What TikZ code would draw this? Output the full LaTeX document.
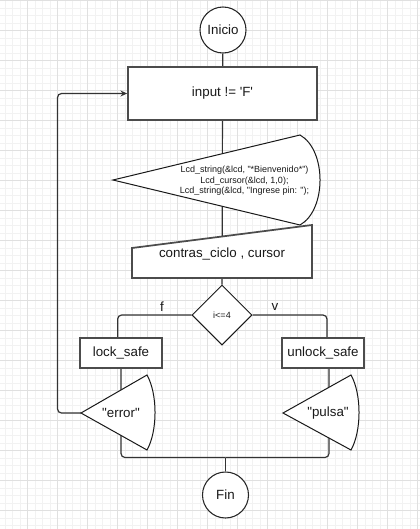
\documentclass[tikz,border=0pt]{standalone}
\usepackage{fontspec}
\setmainfont{Liberation Sans}[Ligatures=TeXOff]
\usetikzlibrary{shapes.geometric,arrows.meta}
\pgfdeclarelayer{grid}
\pgfdeclarelayer{edges}
\pgfsetlayers{grid,edges,main}

\begin{document}
\begin{tikzpicture}[x=0.75pt, y=-0.75pt,
  every node/.style={font=\fontsize{10}{12}\selectfont, text=black!90},
  term/.style={circle, draw=black!85, line width=0.8pt, fill=white, minimum size=34.5pt, inner sep=0pt},
  procbox/.style={rectangle, draw=black!70, line width=1.3pt, fill=white, minimum width=61.5pt, minimum height=22.5pt, inner sep=0pt},
  procline/.style={draw=black!70, line width=1.3pt, fill=white},
  shapeline/.style={draw=black!90, line width=0.75pt, fill=white},
  decision/.style={diamond, draw=black!90, line width=0.75pt, fill=white, minimum width=45pt, minimum height=45pt, inner sep=0pt},
  smalltext/.style={font=\fontsize{6.75}{7.9}\selectfont},
  flowline/.style={draw=black!80, line width=0.9pt, rounded corners=3pt}]
% page grid as in the editor
\providecommand{\flowGridMinor}{black!5}
\providecommand{\flowGridMajor}{black!12}
\useasboundingbox (0,0) rectangle (420,529);
\begin{pgfonlayer}{grid}
  \fill[white] (0,0) rectangle (420,529);
  \draw[\flowGridMinor, line width=0.6pt] \foreach \i in {0,...,55} {(5+7.5*\i,0) -- ++(0,529)};
  \draw[\flowGridMinor, line width=0.6pt] \foreach \j in {0,...,70} {(0,0.7+7.5*\j) -- ++(420,0)};
  \draw[\flowGridMajor, line width=0.6pt] \foreach \i in {0,...,13} {(27.5+30*\i,0) -- ++(0,529)};
  \draw[\flowGridMajor, line width=0.6pt] \foreach \j in {0,...,17} {(0,0.7+30*\j) -- ++(420,0)};
\end{pgfonlayer}

% start and first test
\node[term] (ini) at (223,30) {Inicio};
\node[procbox, minimum width=141.75pt, minimum height=39.75pt] (input) at (222.5,93.5) {input != 'F'};

% display on the lcd
\path[shapeline] (113,180) -- (300,135) .. controls (326.7,150) and (326.7,210) .. (300,225) -- cycle;
\node[smalltext, align=center] (msg) at (244.5,181) {Lcd\_string(\&lcd, "*Bienvenido*")\\Lcd\_cursor(\&lcd, 1,0);\hspace*{11.7pt}\\Lcd\_string(\&lcd, "Ingrese pin: ");};

% manual input
\path[procline] (132,278) -- (132,248) -- (312,225) -- (312,278) -- cycle;
\node (readin) at (222,254) {contras\_ciclo , cursor};

% decision and branches
\node[decision, smalltext] (cond) at (222,315) {i<=4};
\node (lblf) at (162,307) {f};
\node (lblv) at (275,307) {v};
\node[procbox] (lock) at (121,353) {lock\_safe};
\node[procbox] (unlock) at (323,353) {unlock\_safe};

% messages
\path[shapeline] (81,413) -- (147,375) .. controls (157.7,394) and (157.7,431) .. (147,450) -- cycle;
\node (err) at (121,413) {"error"};
\coordinate (errL) at (81,413);
\path[shapeline] (283,413) -- (351,375) .. controls (361.7,394) and (361.7,431) .. (351,450) -- cycle;
\node (pul) at (328,413) {"pulsa"};

% end
\node[term] (fin) at (225.5,495) {Fin};

% connectors
\coordinate (merge) at (225.5,457.5);
\coordinate (loop) at (57.5,413);
\begin{pgfonlayer}{edges}
  \draw[flowline] (ini) -- (input);
  \draw[flowline] (input) -- (cond);
  \draw[flowline] (cond.west) -| ([xshift=-2.5pt]lock.north);
  \draw[flowline] (cond.east) -| ([xshift=3pt]unlock.north);
  \draw[flowline] (lock.south) |- (merge);
  \draw[flowline] ([xshift=4.5pt]unlock.south) |- (merge);
  \draw[flowline] (merge) -- (fin);
  \draw[flowline, -{Stealth[length=5pt,width=4.5pt]}] (errL) -- (loop) |- (input.west);
\end{pgfonlayer}
\end{tikzpicture}
\end{document}
